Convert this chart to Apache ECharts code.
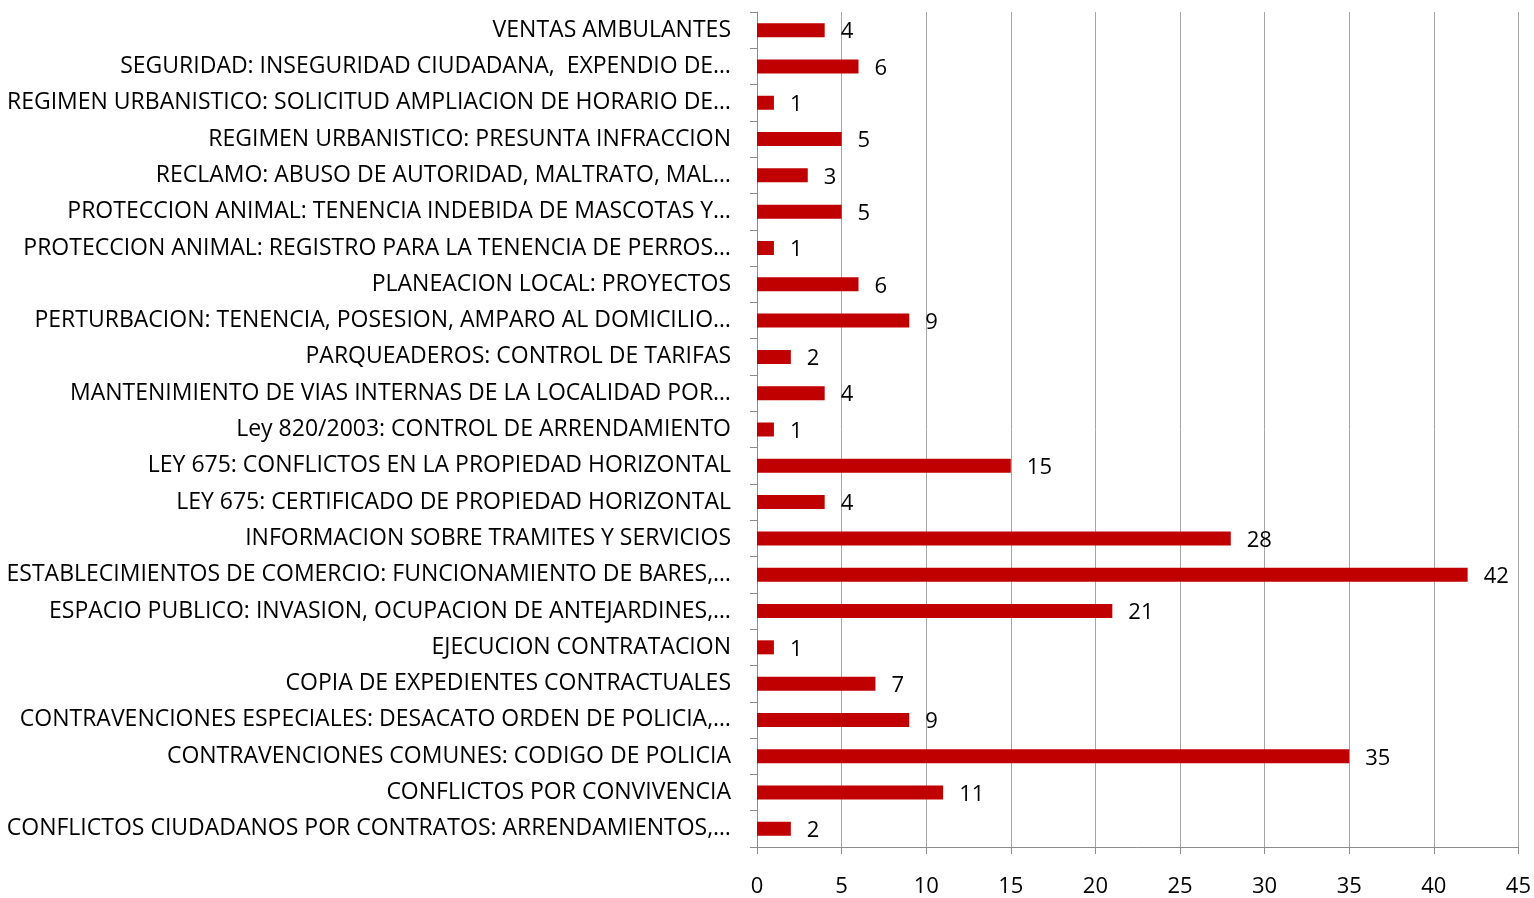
<!DOCTYPE html>
<html>
<head>
<meta charset="utf-8">
<style>
body { margin: 0; background: #fff; }
#chart { width: 1534px; height: 898px; }
</style>
<script src="https://cdn.jsdelivr.net/npm/echarts@6/dist/echarts.min.js"></script>
</head>
<body>
<div id="chart"></div>
<script>
// categories listed bottom to top, as the category axis draws them
const categories = [
  "CONFLICTOS CIUDADANOS POR CONTRATOS: ARRENDAMIENTOS,…",
  "CONFLICTOS POR CONVIVENCIA",
  "CONTRAVENCIONES COMUNES: CODIGO DE POLICIA",
  "CONTRAVENCIONES ESPECIALES: DESACATO ORDEN DE POLICIA,…",
  "COPIA DE EXPEDIENTES CONTRACTUALES",
  "EJECUCION CONTRATACION",
  "ESPACIO PUBLICO: INVASION, OCUPACION DE ANTEJARDINES,…",
  "ESTABLECIMIENTOS DE COMERCIO: FUNCIONAMIENTO DE BARES,…",
  "INFORMACION SOBRE TRAMITES Y SERVICIOS",
  "LEY 675: CERTIFICADO DE PROPIEDAD HORIZONTAL",
  "LEY 675: CONFLICTOS EN LA PROPIEDAD HORIZONTAL",
  "Ley 820/2003: CONTROL DE ARRENDAMIENTO",
  "MANTENIMIENTO DE VIAS INTERNAS DE LA LOCALIDAD POR…",
  "PARQUEADEROS: CONTROL DE TARIFAS",
  "PERTURBACION: TENENCIA, POSESION, AMPARO AL DOMICILIO…",
  "PLANEACION LOCAL: PROYECTOS",
  "PROTECCION ANIMAL: REGISTRO PARA LA TENENCIA DE PERROS…",
  "PROTECCION ANIMAL: TENENCIA INDEBIDA DE MASCOTAS Y…",
  "RECLAMO: ABUSO DE AUTORIDAD, MALTRATO, MAL…",
  "REGIMEN URBANISTICO: PRESUNTA INFRACCION",
  "REGIMEN URBANISTICO: SOLICITUD AMPLIACION DE HORARIO DE…",
  "SEGURIDAD: INSEGURIDAD CIUDADANA,  EXPENDIO DE…",
  "VENTAS AMBULANTES"
];
const counts = [2, 11, 35, 9, 7, 1, 21, 42, 28, 4, 15, 1, 4, 2, 9, 6, 1, 5, 3, 5, 1, 6, 4];

const xMin = 0, xMax = 45, xStep = 5;

const font = "'Open Sans', 'Noto Sans', sans-serif";
const gray = "#8c8c8c";

const chart = echarts.init(document.getElementById('chart'), null, { renderer: 'canvas' });
chart.setOption({
  animation: false,
  grid: { left: 757, right: 14, top: 12, bottom: 51, containLabel: false },
  xAxis: {
    type: 'value',
    min: xMin, max: xMax, interval: xStep,
    axisLine: { show: true, lineStyle: { color: gray, width: 1 } },
    axisTick: { show: true, length: 7, lineStyle: { color: gray } },
    axisLabel: { color: '#000', fontSize: 22, fontFamily: font, margin: 29 },
    splitLine: { show: true, lineStyle: { color: '#a6a6a6', width: 1 } }
  },
  yAxis: {
    type: 'category',
    data: categories,
    axisLine: { show: true, lineStyle: { color: gray, width: 1 } },
    axisTick: { show: true, length: 7, lineStyle: { color: gray } },
    axisLabel: { color: '#000', fontSize: 23, fontFamily: font, margin: 26, interval: 0 }
  },
  series: [{
    type: 'bar',
    data: counts,
    barWidth: 14,
    itemStyle: { color: '#c00000' },
    label: {
      show: true, position: 'right', distance: 16, offset: [0, 2],
      color: '#000', fontSize: 22, fontFamily: font
    }
  }]
});
</script>
</body>
</html>
